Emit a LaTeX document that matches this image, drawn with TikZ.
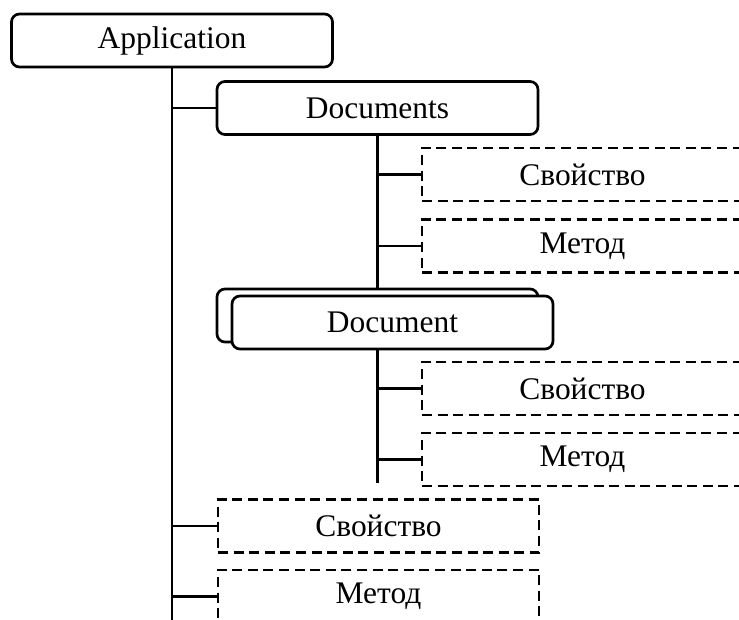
\documentclass[tikz,border=0pt]{standalone}
\usepackage{fontspec}
\setmainfont{Liberation Serif}
\begin{document}
\begin{tikzpicture}[x=0.75pt,y=-0.75pt,
  txt/.style={font=\fontsize{23.6pt}{28pt}\selectfont},
  box/.style={txt,draw,line width=2pt,rounded corners=6pt,minimum width=240.75pt,minimum height=39.75pt,inner sep=0pt,fill=white},
  dbox/.style={txt,draw,line width=2pt,dash pattern=on 7.5pt off 4.2pt,minimum width=240.75pt,minimum height=39.75pt,inner sep=0pt},
  link/.style={line width=2pt}]
\useasboundingbox (0,0) rectangle (739,620);
\clip (0,0) rectangle (739,620);
\node[box] (app) at (172,40.5) {Application};
\node[box] (docs) at (377.5,108) {Documents};
\node[dbox] (p1) at (582.5,174.5) {Свойство};
\node[dbox] (m1) at (582.5,246) {Метод};
\node[box] (docback) at (377.5,315.5) {};
\node[box] (doc) at (392.5,322.5) {Document};
\node[dbox] (p2) at (582.5,388.5) {Свойство};
\node[dbox] (m2) at (582.5,459.5) {Метод};
\node[dbox] (p3) at (378.5,526) {Свойство};
\node[dbox] (m3) at (378.5,596.5) {Метод};
\coordinate (trunkend) at (172,622);
\coordinate (subend) at (377.5,483);
% main trunk
\draw[link] (app.south) -- (app.south |- trunkend);
\draw[link] (app.south |- docs.west) -- (docs.west);
\draw[link] (app.south |- p3.west) -- (p3.west);
\draw[link] (app.south |- m3.west) -- (m3.west);
% documents trunk
\draw[link] (docs.south) -- (docs.south |- docback.north);
\draw[link] (docs.south |- p1.west) -- (p1.west);
\draw[link] (docs.south |- m1.west) -- (m1.west);
\draw[link] (docs.south |- doc.south) -- (subend);
\draw[link] (docs.south |- p2.west) -- (p2.west);
\draw[link] (docs.south |- m2.west) -- (m2.west);
\end{tikzpicture}
\end{document}
